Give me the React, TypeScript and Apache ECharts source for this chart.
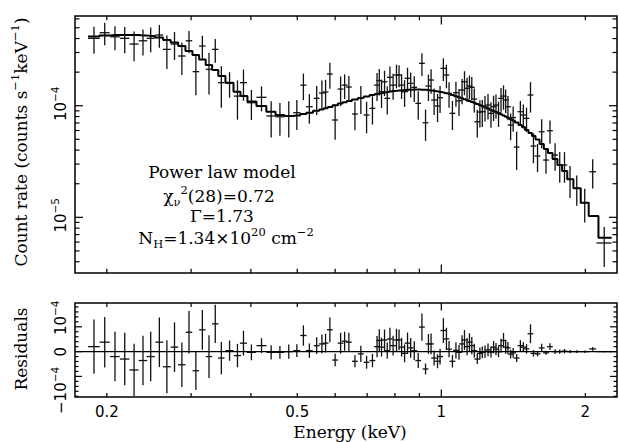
import React, { useEffect, useRef } from 'react';
import * as echarts from 'echarts';

// Rates, errors, model and residuals are given in units of 1e-4 counts s^-1 keV^-1
const RATE_UNIT = 1e-4;

const energy = [
  0.188, 0.198, 0.208, 0.218, 0.228, 0.238, 0.247, 0.2575, 0.267, 0.277,
  0.287, 0.297, 0.307, 0.3167, 0.327, 0.337, 0.347, 0.361, 0.375, 0.386,
  0.401, 0.421, 0.441, 0.46, 0.48, 0.499, 0.515, 0.53,
  0.549, 0.563, 0.573, 0.585, 0.6, 0.616, 0.628, 0.641, 0.66, 0.679,
  0.698, 0.718, 0.734, 0.742, 0.75, 0.761, 0.771, 0.781, 0.793, 0.806,
  0.816, 0.826, 0.838, 0.85, 0.863, 0.878, 0.895, 0.911, 0.927, 0.94,
  0.952, 0.966, 0.982, 0.994, 1.01, 1.025, 1.038, 1.055, 1.073, 1.089,
  1.105, 1.118, 1.132, 1.145, 1.158, 1.172, 1.189, 1.204, 1.218, 1.234,
  1.252, 1.27, 1.286, 1.301, 1.317, 1.333, 1.349, 1.363, 1.378, 1.396,
  1.413, 1.437, 1.463, 1.484, 1.507, 1.536, 1.558, 1.589, 1.621, 1.655,
  1.687, 1.729, 1.768, 1.809, 1.858, 1.919, 1.994, 2.072, 2.19,
];

const energyHalfWidth = [
  0.0053, 0.0048, 0.0048, 0.005, 0.005, 0.0049, 0.0048, 0.0049, 0.0051, 0.0051,
  0.0052, 0.0046, 0.0048, 0.0049, 0.0051, 0.0052, 0.0054, 0.007, 0.0064, 0.0066,
  0.0088, 0.0102, 0.0099, 0.0097, 0.0098, 0.0087, 0.0077, 0.0085,
  0.0078, 0.008, 0.008, 0.0082, 0.0085, 0.0086, 0.0088, 0.009, 0.0092, 0.0095,
  0.0098, 0.01, 0.0103, 0.0104, 0.0105, 0.0107, 0.0108, 0.011, 0.011, 0.0113,
  0.0114, 0.0116, 0.0117, 0.0119, 0.0121, 0.0123, 0.0125, 0.0128, 0.013, 0.0132,
  0.0133, 0.0135, 0.0137, 0.0139, 0.0141, 0.0144, 0.0145, 0.0148, 0.015, 0.0152,
  0.0155, 0.0157, 0.0158, 0.016, 0.0162, 0.0164, 0.0166, 0.0169, 0.017, 0.0173,
  0.0175, 0.0178, 0.018, 0.0182, 0.0184, 0.0187, 0.0189, 0.0191, 0.0193, 0.0195,
  0.0198, 0.02, 0.0205, 0.0208, 0.021, 0.0215, 0.0218, 0.0222, 0.0227, 0.023,
  0.0236, 0.0242, 0.0248, 0.025, 0.0295, 0.0306, 0.045, 0.034, 0.08,
];

const rate = [
  4.02, 4.51, 4.15, 4.02, 3.57, 3.82, 4.02, 4.3, 3.2, 3.57,
  2.79, 3.82, 2.02, 3.43, 2.12, 3.2, 1.61, 1.59, 1.22, 1.61,
  1.064, 1.19, 0.809, 0.797, 0.809, 0.866, 1.53, 0.98,
  1.165, 1.3, 1.327, 1.923, 0.745, 1.411, 1.53, 1.471, 0.843, 1.172,
  0.826, 0.948, 1.53, 1.682, 1.335, 1.64, 1.165, 1.797, 1.53, 1.884,
  1.884, 1.53, 1.335, 1.76, 1.588, 1.462, 1.05, 2.399, 0.704, 1.501,
  1.7, 1.125, 0.994, 1.18, 2.163, 1.884, 1.291, 0.855, 1.308, 1.109,
  1.383, 1.64, 1.432, 1.501, 1.462, 1.148, 0.719, 0.878, 0.884, 0.973,
  1.014, 0.855, 0.98, 1.014, 0.866, 1.165, 1.22, 1.125, 0.98, 0.671,
  0.784, 0.426, 0.884, 0.826, 0.771, 1.247, 0.435, 0.354, 0.585, 0.326,
  0.597, 0.362, 0.294, 0.294, 0.219, 0.182, 0.135, 0.256, 0.0589,
];

const rateErr = [
  1.09, 1.02, 1.0, 1.06, 1.06, 1.0, 1.0, 1.0, 1.07, 1.0,
  0.9, 0.86, 0.78, 0.8, 0.86, 0.77, 0.65, 0.41, 0.47, 0.5,
  0.32, 0.3, 0.29, 0.26, 0.29, 0.26, 0.41, 0.29,
  0.34, 0.38, 0.38, 0.5, 0.25, 0.42, 0.38, 0.38, 0.24, 0.33,
  0.26, 0.27, 0.43, 0.45, 0.38, 0.42, 0.33, 0.45, 0.4, 0.45,
  0.42, 0.38, 0.36, 0.43, 0.4, 0.38, 0.3, 0.55, 0.22, 0.4,
  0.42, 0.3, 0.28, 0.32, 0.5, 0.45, 0.33, 0.25, 0.33, 0.3,
  0.35, 0.4, 0.35, 0.36, 0.35, 0.28, 0.2, 0.24, 0.24, 0.25,
  0.26, 0.22, 0.25, 0.25, 0.22, 0.28, 0.3, 0.27, 0.24, 0.18,
  0.2, 0.16, 0.22, 0.2, 0.19, 0.38, 0.13, 0.1, 0.17, 0.08,
  0.14, 0.1, 0.09, 0.09, 0.07, 0.055, 0.045, 0.075, 0.023,
];

const model = [
  4.17, 4.26, 4.3, 4.3, 4.3, 4.27, 4.21, 4.08, 3.88, 3.68,
  3.43, 3.09, 2.85, 2.59, 2.32, 2.09, 1.85, 1.61, 1.335, 1.22,
  1.09, 0.994, 0.884, 0.826, 0.809, 0.817, 0.843, 0.866,
  0.902, 0.925, 0.948, 0.973, 1.008, 1.046, 1.075, 1.102, 1.136, 1.172,
  1.209, 1.247, 1.273, 1.286, 1.3, 1.313, 1.327, 1.341, 1.355, 1.363,
  1.369, 1.377, 1.383, 1.388, 1.394, 1.397, 1.397, 1.394, 1.388, 1.377,
  1.366, 1.355, 1.341, 1.327, 1.311, 1.291, 1.273, 1.247, 1.217, 1.19,
  1.165, 1.144, 1.125, 1.102, 1.079, 1.062, 1.036, 1.014, 0.994, 0.97,
  0.944, 0.915, 0.897, 0.878, 0.857, 0.837, 0.819, 0.8, 0.782, 0.76,
  0.737, 0.707, 0.671, 0.644, 0.605, 0.569, 0.535, 0.498, 0.454, 0.409,
  0.377, 0.333, 0.294, 0.26, 0.219, 0.182, 0.135, 0.1027, 0.0657,
];

const residual = [
  0.2, 0.38, -0.2, -0.3, -0.74, -0.36, -0.2, 0.38, -0.61, 0.18,
  -0.53, 0.78, -0.77, 0.88, -0.2, 1.12, -0.26, 0.04, -0.16, 0.34,
  -0.03, 0.24, -0.03, -0.03, 0.0, 0.04, 0.65, 0.04,
  0.24, 0.31, 0.34, 0.88, -0.34, 0.34, 0.42, 0.38, -0.39, -0.09,
  -0.43, -0.36, 0.2, 0.45, 0.18, 0.47, 0.04, 0.51, 0.24, 0.47,
  0.47, 0.18, -0.07, 0.34, 0.15, 0.04, -0.36, 0.99, -0.7, 0.31,
  0.31, -0.26, -0.39, -0.2, 0.85, 0.51, 0.1, -0.39, 0.05, -0.03,
  0.31, 0.47, 0.2, 0.38, 0.24, 0.04, -0.3, -0.07, -0.03, 0.0,
  0.07, -0.02, 0.18, 0.1, 0.0, 0.24, 0.45, 0.18, 0.15, -0.1,
  -0.05, -0.26, 0.24, 0.18, 0.11, 0.72, -0.07, -0.09, 0.15, -0.05,
  0.2, 0.0, 0.0, 0.02, 0.0, 0.0, 0.0, 0.11, 0.0,
];

// Axis extents and ticks
const ENERGY_MIN = 0.1716;
const ENERGY_MAX = 2.329;
const RATE_MIN = 3.17e-6;
const RATE_MAX = 6.37e-4;
const RES_MIN = -1.83e-4;
const RES_MAX = 1.96e-4;

const xMajorTicks = [1];
const xMinorTicks = [0.2, 0.3, 0.4, 0.5, 0.6, 0.7, 0.8, 0.9, 2];
const xLabelValues = [0.2, 0.5, 1, 2];
const xLabelTexts = ['0.2', '0.5', '1', '2'];

const rateMajorTicks = [1e-5, 1e-4];
const rateMinorTicks = [
  4e-6, 5e-6, 6e-6, 7e-6, 8e-6, 9e-6,
  2e-5, 3e-5, 4e-5, 5e-5, 6e-5, 7e-5, 8e-5, 9e-5,
  2e-4, 3e-4, 4e-4, 5e-4, 6e-4,
];
const rateLabelValues = [1e-4, 1e-5];
const rateLabelTexts = ['{d|10}{sup|−4}', '{d|10}{sup|−5}'];

const resMajorTicks = [-1e-4, 0, 1e-4];
const resMinorTicks = [
  -1.8e-4, -1.6e-4, -1.4e-4, -1.2e-4, -0.8e-4, -0.6e-4, -0.4e-4, -0.2e-4,
  0.2e-4, 0.4e-4, 0.6e-4, 0.8e-4, 1.2e-4, 1.4e-4, 1.6e-4, 1.8e-4,
];
const resLabelValues = [1e-4, 0, -1e-4];
const resLabelTexts = ['{d|10}{sup|−4}', '{d|0}', '{d|−10}{sup|−4}'];
const resLabelShift = [-9, 0, 14];

const SERIF = '"DejaVu Serif", serif';
const SANS = '"DejaVu Sans", sans-serif';

const tickRich = {
  d: { fontFamily: SANS, fontSize: 15, lineHeight: 24, fill: '#000' },
  sup: { fontFamily: SANS, fontSize: 10.5, lineHeight: 13, verticalAlign: 'top', fill: '#000' },
};
const textRich = {
  t: { fontFamily: SERIF, fontSize: 17, lineHeight: 24, fill: '#000' },
  tc: { fontFamily: SERIF, fontSize: 17, lineHeight: 18, fill: '#000' },
  sup: { fontFamily: SERIF, fontSize: 11.5, lineHeight: 13, verticalAlign: 'top', fill: '#000' },
  sub: { fontFamily: SERIF, fontSize: 11.5, lineHeight: 13, verticalAlign: 'bottom', fill: '#000' },
};

function makeFrame(cfg: any) {
  return (params: any, api: any) => {
    const cs = params.coordSys;
    const x0 = cs.x, x1 = cs.x + cs.width, y0 = cs.y, y1 = cs.y + cs.height;
    const ch: any[] = [];
    const seg = (a: number, b: number, c: number, d: number, w = 1.2) =>
      ch.push({ type: 'line', shape: { x1: a, y1: b, x2: c, y2: d }, style: { stroke: '#000', lineWidth: w } });
    cfg.xTicks.forEach(([v, len]: number[]) => {
      const px = api.coord([v, cfg.yRef])[0];
      seg(px, y1, px, y1 - len);
      seg(px, y0, px, y0 + len);
    });
    cfg.yTicks.forEach(([v, len]: number[]) => {
      const py = api.coord([cfg.xRef, v])[1];
      seg(x0, py, x0 + len, py);
      seg(x1, py, x1 - len, py);
    });
    if (cfg.zeroLine) {
      const py = api.coord([cfg.xRef, 0])[1];
      seg(x0, py, x1, py, 1.3);
    }
    cfg.yLabels.forEach(([v, text, dy]: any[]) => {
      const py = api.coord([cfg.xRef, v])[1];
      ch.push({
        type: 'text', x: x0 - 14, y: py + dy, rotation: Math.PI / 2,
        style: { text, rich: tickRich, align: 'center', verticalAlign: 'middle', textAlign: 'center', textVerticalAlign: 'middle', fill: '#000' },
      });
    });
    cfg.xLabels.forEach(([v, text]: any[]) => {
      const px = api.coord([v, cfg.yRef])[0];
      ch.push({
        type: 'text', x: px, y: y1 + 15,
        style: { text, font: `15px ${SANS}`, fontSize: 15, fontFamily: SANS, lineHeight: 15, align: 'center', verticalAlign: 'middle', textAlign: 'center', textVerticalAlign: 'middle', fill: '#000' },
      });
    });
    return { type: 'group', children: ch };
  };
}

function renderErrorBars(floorLog: boolean) {
  return (params: any, api: any) => {
    const e = api.value(0), de = api.value(1), v = api.value(2), s = api.value(3);
    const lowV = floorLog ? Math.max(v - s, v * 0.02) : v - s;
    const pL = api.coord([e - de, v]);
    const pR = api.coord([e + de, v]);
    const pT = api.coord([e, v + s]);
    const pB = api.coord([e, lowV]);
    const st = { stroke: '#111', lineWidth: 1.3 };
    return {
      type: 'group',
      children: [
        { type: 'line', shape: { x1: pL[0], y1: pL[1], x2: pR[0], y2: pR[1] }, style: st },
        { type: 'line', shape: { x1: pT[0], y1: pT[1], x2: pB[0], y2: pB[1] }, style: st },
      ],
    };
  };
}

export default function App() {
  const ref = useRef<HTMLDivElement>(null);
  useEffect(() => {
    if (!ref.current) return;
    const chart = echarts.init(ref.current, undefined, { renderer: 'svg' });
    const U = RATE_UNIT;
    const n = energy.length;
    const spectrum = energy.map((e, i) => [e, energyHalfWidth[i], rate[i] * U, rateErr[i] * U]);
    const resid = energy.map((e, i) => [e, energyHalfWidth[i], residual[i] * U, rateErr[i] * U]);
    const modelLine = [
      [energy[0] - energyHalfWidth[0], model[0] * U],
      ...energy.map((e, i) => [e, model[i] * U]),
      [energy[n - 1] + energyHalfWidth[n - 1], model[n - 1] * U],
    ];
    const xTicks = [...xMajorTicks.map((v) => [v, 8.5]), ...xMinorTicks.map((v) => [v, 4.3])];
    const xTicksRes = [...xMajorTicks.map((v) => [v, 7.5]), ...xMinorTicks.map((v) => [v, 4])];

    const option: any = {
      animation: false,
      backgroundColor: '#fff',
      grid: [
        { left: 75, top: 16, width: 542, height: 257, show: true, borderColor: '#000', borderWidth: 1.5, backgroundColor: 'transparent' },
        { left: 75, top: 303, width: 542, height: 94, show: true, borderColor: '#000', borderWidth: 1.5, backgroundColor: 'transparent' },
      ],
      xAxis: [
        { type: 'log', logBase: 10, min: ENERGY_MIN, max: ENERGY_MAX, gridIndex: 0, show: false },
        { type: 'log', logBase: 10, min: ENERGY_MIN, max: ENERGY_MAX, gridIndex: 1, show: false },
      ],
      yAxis: [
        { type: 'log', logBase: 10, min: RATE_MIN, max: RATE_MAX, gridIndex: 0, show: false },
        { type: 'value', min: RES_MIN, max: RES_MAX, gridIndex: 1, show: false },
      ],
      series: [
        {
          type: 'custom', xAxisIndex: 0, yAxisIndex: 0, silent: true, z: 5,
          data: [[1, 1e-4]],
          renderItem: makeFrame({
            xRef: 1, yRef: 1e-4, xTicks,
            yTicks: [...rateMajorTicks.map((v) => [v, 8]), ...rateMinorTicks.map((v) => [v, 4.5])],
            yLabels: rateLabelValues.map((v, i) => [v, rateLabelTexts[i], -2]),
            xLabels: [],
          }),
        },
        {
          type: 'custom', xAxisIndex: 1, yAxisIndex: 1, silent: true, z: 5,
          data: [[1, 0]],
          renderItem: makeFrame({
            xRef: 1, yRef: 0, xTicks: xTicksRes, zeroLine: true,
            yTicks: [...resMajorTicks.map((v) => [v, 7]), ...resMinorTicks.map((v) => [v, 3.5])],
            yLabels: resLabelValues.map((v, i) => [v, resLabelTexts[i], resLabelShift[i]]),
            xLabels: xLabelValues.map((v, i) => [v, xLabelTexts[i]]),
          }),
        },
        {
          type: 'line', xAxisIndex: 0, yAxisIndex: 0, step: 'middle', showSymbol: false, symbol: 'none',
          data: modelLine, lineStyle: { color: '#000', width: 2 }, z: 3, silent: true,
        },
        {
          type: 'custom', xAxisIndex: 0, yAxisIndex: 0, data: spectrum, encode: { x: 0, y: 2 },
          renderItem: renderErrorBars(true), clip: true, z: 4, silent: true,
        },
        {
          type: 'custom', xAxisIndex: 1, yAxisIndex: 1, data: resid, encode: { x: 0, y: 2 },
          renderItem: renderErrorBars(false), clip: true, z: 4, silent: true,
        },
      ],
      graphic: [
        {
          type: 'text', x: 21, y: 142, rotation: Math.PI / 2,
          style: { text: '{t|Count rate (counts s}{sup|−1}{t|keV}{sup|−1}{t|)}', rich: textRich, align: 'center', verticalAlign: 'middle', textAlign: 'center', textVerticalAlign: 'middle' },
        },
        {
          type: 'text', x: 21, y: 349, rotation: Math.PI / 2,
          style: { text: '{t|Residuals}', rich: textRich, align: 'center', verticalAlign: 'middle', textAlign: 'center', textVerticalAlign: 'middle' },
        },
        {
          type: 'text', x: 350, y: 432,
          style: { text: '{tc|Energy (keV)}', rich: textRich, align: 'center', verticalAlign: 'middle', textAlign: 'center', textVerticalAlign: 'middle' },
        },
        {
          type: 'text', x: 222, y: 172,
          style: { text: '{t|Power law model}', rich: textRich, align: 'center', verticalAlign: 'middle', textAlign: 'center', textVerticalAlign: 'middle' },
        },
        {
          type: 'text', x: 219, y: 196,
          style: { text: '{t|χ}{sub|ν}{sup|2}{t|(28)=0.72}', rich: textRich, align: 'center', verticalAlign: 'middle', textAlign: 'center', textVerticalAlign: 'middle' },
        },
        {
          type: 'text', x: 222, y: 216,
          style: { text: '{t|Γ=1.73}', rich: textRich, align: 'center', verticalAlign: 'middle', textAlign: 'center', textVerticalAlign: 'middle' },
        },
        {
          type: 'text', x: 226, y: 238,
          style: { text: '{t|N}{sub|H}{t|=1.34×10}{sup|20}{t| cm}{sup|−2}', rich: textRich, align: 'center', verticalAlign: 'middle', textAlign: 'center', textVerticalAlign: 'middle' },
        },
      ],
    };
    chart.setOption(option);
    return () => chart.dispose();
  }, []);
  return <div ref={ref} style={{ position: 'absolute', left: 0, top: 0, width: 619, height: 442, background: '#fff' }} />;
}
